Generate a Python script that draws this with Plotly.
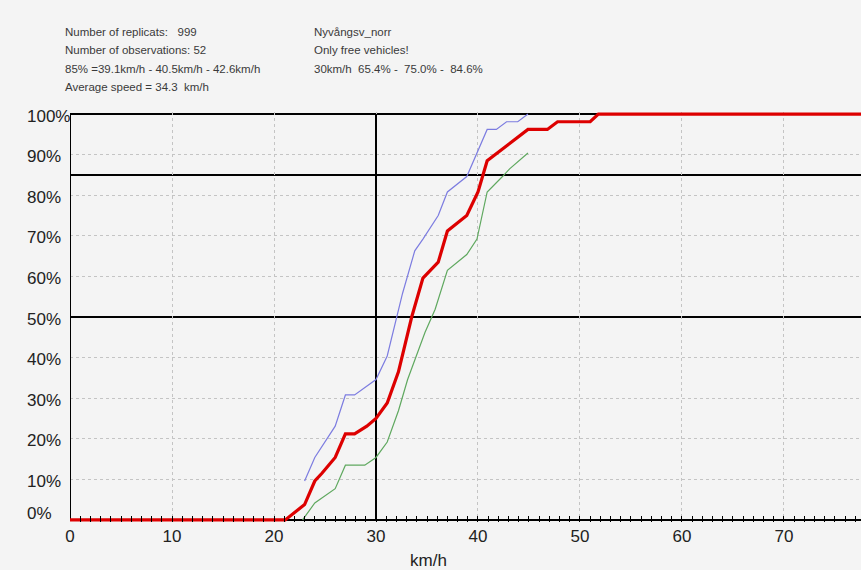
import plotly.graph_objects as go

# Cumulative speed distribution (km/h vs. share of vehicles, %)
speed_mid = [0, 21.1, 23.0, 24.0, 24.7, 26.0, 27.0, 27.9, 29.1, 30.0, 31.1, 32.2,
             33.5, 34.6, 36.1, 37.0, 38.9, 40.0, 40.9, 44.9, 46.8, 47.8, 51.0, 51.8, 78.0]
pct_mid = [0, 0, 3.8, 9.6, 11.5, 15.4, 21.2, 21.2, 23.1, 25.0, 28.8, 36.5,
           50.0, 59.6, 63.5, 71.2, 75.0, 80.8, 88.5, 96.2, 96.2, 98.1, 98.1, 100, 100]

# Upper confidence bound
speed_hi = [23.0, 24.0, 26.0, 27.0, 27.9, 30.0, 31.1, 32.6, 33.8, 34.6, 36.1, 37.0,
            38.9, 40.2, 40.9, 41.8, 42.8, 43.9, 44.9]
pct_hi = [9.6, 15.4, 23.1, 30.8, 30.8, 34.6, 40.4, 55.8, 66.3, 69.2, 75.0, 80.8,
          84.6, 92.3, 96.2, 96.2, 98.1, 98.1, 100]

# Lower confidence bound
speed_lo = [22.8, 24.0, 26.0, 27.0, 28.9, 30.0, 31.1, 32.2, 33.1, 34.8, 35.8, 37.0,
            38.9, 39.9, 40.9, 41.7, 42.4, 43.1, 44.9]
pct_lo = [0, 4.2, 7.7, 13.5, 13.5, 15.4, 19.2, 26.9, 34.6, 46.2, 51.9, 61.5,
          65.4, 69.2, 80.8, 82.7, 84.6, 86.5, 90.4]

x_ticks = [0, 10, 20, 30, 40, 50, 60, 70]
y_ticks = [0, 10, 20, 30, 40, 50, 60, 70, 80, 90, 100]
y_labels = [f"{v}%" for v in y_ticks]

header_left = ["Number of replicats:   999",
               "Number of observations: 52",
               "85% =39.1km/h - 40.5km/h - 42.6km/h",
               "Average speed = 34.3  km/h"]
header_right = ["Nyvångsv_norr",
                "Only free vehicles!",
                "30km/h  65.4% -  75.0% -  84.6%"]

ref_speed = 30
ref_levels = [85, 50]
frame_levels = [0, 100]

BG = "#f4f4f4"
TICK_FONT = dict(family="Liberation Sans, Arial", size=17, color="#222222")
HEAD_FONT = dict(family="Liberation Sans, Arial", size=11.5, color="#3a3a3a")

fig = go.Figure()
fig.add_trace(go.Scatter(x=speed_hi, y=pct_hi, mode="lines",
                         line=dict(color="#7c7ce0", width=1.2), hoverinfo="skip"))
fig.add_trace(go.Scatter(x=speed_lo, y=pct_lo, mode="lines",
                         line=dict(color="#5fa85f", width=1.2), hoverinfo="skip"))
fig.add_trace(go.Scatter(x=speed_mid, y=pct_mid, mode="lines",
                         line=dict(color="#dd0000", width=3.2), hoverinfo="skip"))

# Frame and reference lines (between grid and data)
line_style = dict(color="black", width=2)
for lvl in frame_levels + ref_levels:
    fig.add_shape(type="line", xref="paper", yref="y", x0=0, x1=1, y0=lvl, y1=lvl,
                  line=line_style, layer="between")
for xv in [0, ref_speed]:
    fig.add_shape(type="line", xref="x", yref="y", x0=xv, x1=xv, y0=0, y1=100,
                  line=line_style, layer="between")

# Percent labels on the left, left-aligned
for v, lab in zip(y_ticks, y_labels):
    fig.add_annotation(xref="paper", yref="y", x=-0.057, y=v, text=lab,
                       showarrow=False, xanchor="left", yanchor="middle",
                       yshift=(6 if v == 0 else -2), font=TICK_FONT)

# Header text block
head_y = [1.195, 1.151, 1.105, 1.061]
for i, t in enumerate(header_left):
    fig.add_annotation(xref="paper", yref="paper", x=-0.009, y=head_y[i], text=t,
                       showarrow=False, xanchor="left", yanchor="middle", font=HEAD_FONT)
for i, t in enumerate(header_right):
    fig.add_annotation(xref="paper", yref="paper", x=0.306, y=head_y[i], text=t,
                       showarrow=False, xanchor="left", yanchor="middle", font=HEAD_FONT)

fig.add_annotation(xref="x", yref="paper", x=35.1, y=-0.093, text="km/h",
                   showarrow=False, xanchor="center", yanchor="middle", font=TICK_FONT)

# Dotted grid only where no solid line is drawn
y_grid = [v for v in y_ticks if v not in frame_levels + ref_levels]

fig.update_layout(
    width=861, height=570,
    margin=dict(l=70, r=0, t=112, b=48),
    paper_bgcolor=BG, plot_bgcolor=BG,
    showlegend=False,
    xaxis=dict(range=[0, 77.55], tickvals=x_ticks, showgrid=True,
               gridcolor="#c4c4c4", griddash="dot", gridwidth=1,
               zeroline=False, showline=False,
               ticks="inside", ticklen=6, tickcolor="black", tickwidth=1,
               minor=dict(dtick=1, ticks="inside", ticklen=6, tickcolor="black",
                          tickwidth=1, showgrid=False),
               tickfont=TICK_FONT, ticklabelstandoff=2),
    yaxis=dict(range=[-0.5, 100.5], tickvals=y_grid, showgrid=True,
               gridcolor="#c4c4c4", griddash="dot", gridwidth=1,
               zeroline=False, showline=False, showticklabels=False),
)

fig.write_html("out.html")
